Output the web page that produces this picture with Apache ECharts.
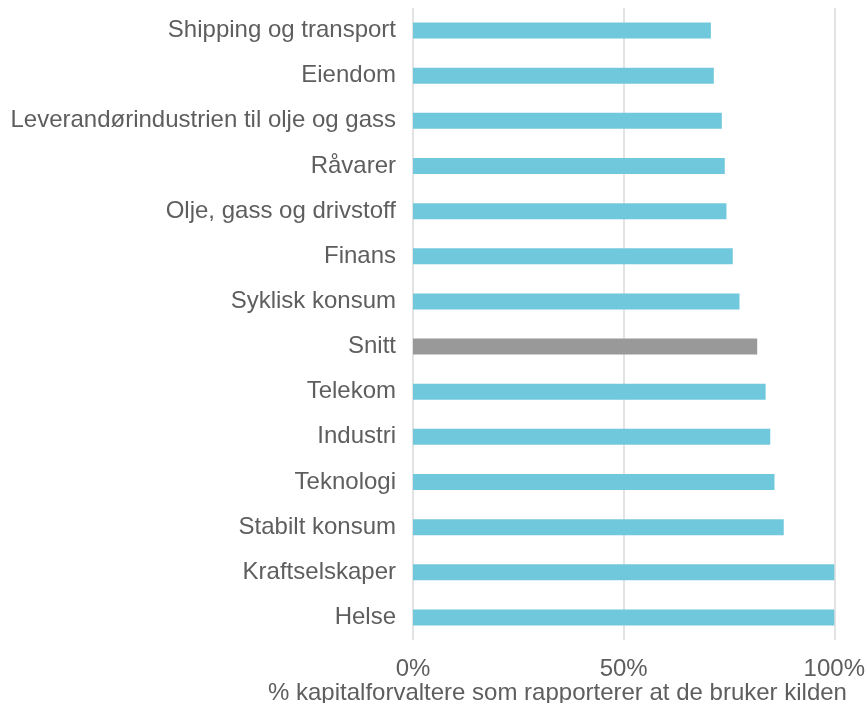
<!DOCTYPE html>
<html>
<head>
<meta charset="utf-8">
<script src="https://cdn.jsdelivr.net/npm/echarts@6/dist/echarts.min.js"></script>
<style>
  html, body { margin: 0; padding: 0; background: #fff; }
  #chart { width: 868px; height: 703px; }
</style>
</head>
<body>
<div id="chart"></div>
<script>
'use strict';

// top to bottom, as in the picture
const categories = [
  'Shipping og transport', 'Eiendom', 'Leverandørindustrien til olje og gass',
  'Råvarer', 'Olje, gass og drivstoff', 'Finans', 'Syklisk konsum', 'Snitt',
  'Telekom', 'Industri', 'Teknologi', 'Stabilt konsum', 'Kraftselskaper', 'Helse'
];
const shares = [70.7, 71.4, 73.3, 74.0, 74.4, 75.9, 77.5, 81.7, 83.7, 84.8, 85.8, 88.0, 100, 100];
const highlight = 'Snitt';
const xTicks = [0, 50, 100];
const xTitle = '% kapitalforvaltere som rapporterer at de bruker kilden';

const font = '"Liberation Sans", Arial, sans-serif';
const textColor = '#5e5e5e';

const chart = echarts.init(document.getElementById('chart'), null, { renderer: 'canvas' });
chart.setOption({
  backgroundColor: '#fff',
  animation: false,
  grid: { left: 413, right: 33, top: 8, bottom: 63, containLabel: false },
  xAxis: {
    type: 'value',
    min: xTicks[0],
    max: xTicks[xTicks.length - 1],
    interval: xTicks[1] - xTicks[0],
    axisLine: { show: false },
    axisTick: { show: false },
    splitLine: { show: true, lineStyle: { color: '#e3e3e3', width: 2 } },
    axisLabel: { color: textColor, fontFamily: font, fontSize: 24, margin: 17, formatter: '{value}%' }
  },
  yAxis: {
    type: 'category',
    inverse: true,
    data: categories,
    axisLine: { show: false },
    axisTick: { show: false },
    axisLabel: { color: textColor, fontFamily: font, fontSize: 24, margin: 17, padding: [5, 0, 0, 0] }
  },
  // axis title sits left of the plot centre in the original, so place it by hand
  graphic: [{
    type: 'text',
    left: 558 - 290,
    top: 681,
    style: { text: xTitle, fill: textColor, font: '24px ' + font }
  }],
  series: [{
    type: 'bar',
    barWidth: 16,
    data: shares.map((v, i) => ({
      value: v,
      itemStyle: { color: categories[i] === highlight ? '#999999' : '#70c8dc' }
    }))
  }]
});
</script>
</body>
</html>
